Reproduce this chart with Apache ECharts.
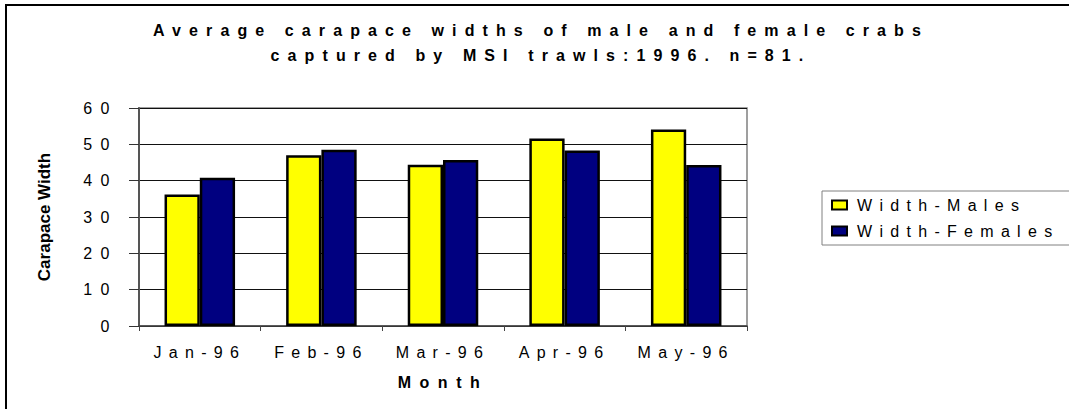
<!DOCTYPE html>
<html><head><meta charset="utf-8">
<script src="https://cdn.jsdelivr.net/npm/echarts@6/dist/echarts.min.js"></script>
<style>html,body{margin:0;padding:0;background:#fff}#c{width:1069px;height:409px}</style>
</head><body><div id="c"></div>
<script>
const months = ['Jan-96', 'Feb-96', 'Mar-96', 'Apr-96', 'May-96'];
const widthMales = [36.2, 47.0, 44.4, 51.6, 54.1];
const widthFemales = [40.8, 48.5, 45.7, 48.3, 44.3];
const seriesNames = ['Width-Males', 'Width-Females'];
const titleText = 'Average carapace widths of male and female crabs\ncaptured by MSI trawls:1996. n=81.';
const yAxisName = 'Carapace Width';
const xAxisName = 'Month';

const FONT = "'Liberation Sans', Arial, sans-serif";
const chart = echarts.init(document.getElementById('c'), null, {renderer: 'svg'});

chart.setOption({
  animation: false,
  backgroundColor: '#fff',
  title: {
    text: titleText,
    left: 541, top: 18, padding: 0, textAlign: 'center',
    textStyle: {fontFamily: FONT, fontSize: 16, fontWeight: 'bold', color: '#000', lineHeight: 25}
  },
  graphic: [{
    type: 'rect', silent: true, z: -1,
    shape: {x: 6, y: 5, width: 1200, height: 600},
    style: {fill: 'none', stroke: '#000', lineWidth: 2}
  }],
  legend: {
    orient: 'vertical', left: 822, top: 191,
    padding: [6, 109, 6, 9], itemGap: 10,
    itemWidth: 15, itemHeight: 9, icon: 'rect',
    borderColor: '#808080', borderWidth: 1,
    textStyle: {fontFamily: FONT, fontSize: 16, color: '#000', padding: [0, 0, 0, 5]},
    itemStyle: {borderColor: '#000', borderWidth: 2}
  },
  grid: {
    left: 139, top: 108, right: 322, bottom: 83,
    show: true, borderColor: '#808080', borderWidth: 1.5, backgroundColor: '#fff'
  },
  xAxis: {
    type: 'category', data: months,
    name: xAxisName, nameLocation: 'middle', nameGap: 48,
    nameTextStyle: {fontFamily: FONT, fontSize: 16, fontWeight: 'bold', color: '#000'},
    axisLine: {lineStyle: {color: '#444', width: 1.5}},
    axisTick: {show: true, length: 5, lineStyle: {color: '#444'}},
    axisLabel: {fontFamily: FONT, fontSize: 16, color: '#000', margin: 18}
  },
  yAxis: {
    type: 'value', min: 0, max: 60, interval: 10,
    name: yAxisName, nameLocation: 'middle', nameGap: 86, nameRotate: 90,
    nameTextStyle: {fontFamily: FONT, fontSize: 17, fontWeight: 'bold', color: '#000'},
    axisLine: {show: true, lineStyle: {color: '#555', width: 2}},
    axisTick: {show: true, length: 10, lineStyle: {color: '#333'}},
    axisLabel: {fontFamily: FONT, fontSize: 16, color: '#000', margin: 21},
    splitLine: {show: true, lineStyle: {color: '#111', width: 1}}
  },
  series: [
    {name: seriesNames[0], type: 'bar', data: widthMales, barGap: '0%', barCategoryGap: '42%',
     itemStyle: {color: '#FFFF00', borderColor: '#000', borderWidth: 2.5}},
    {name: seriesNames[1], type: 'bar', data: widthFemales, barGap: '0%', barCategoryGap: '42%',
     itemStyle: {color: '#000080', borderColor: '#000', borderWidth: 2.5}}
  ]
});

function applySpacing() {
  document.querySelectorAll('#c text').forEach(function (t) {
    const s = t.textContent;
    let sp = 7.3;
    if (s === yAxisName) sp = 0;
    else if (/^\d+$/.test(s)) sp = 8.5;
    else if (s === xAxisName) sp = 8.5;
    else if (s.indexOf('carapace') >= 0 || s.indexOf('captured') >= 0) sp = 8.1;
    t.setAttribute('letter-spacing', sp + 'px');
  });
}
applySpacing();
chart.on('finished', applySpacing);
setTimeout(applySpacing, 30);
setTimeout(applySpacing, 300);
</script>
</body></html>
